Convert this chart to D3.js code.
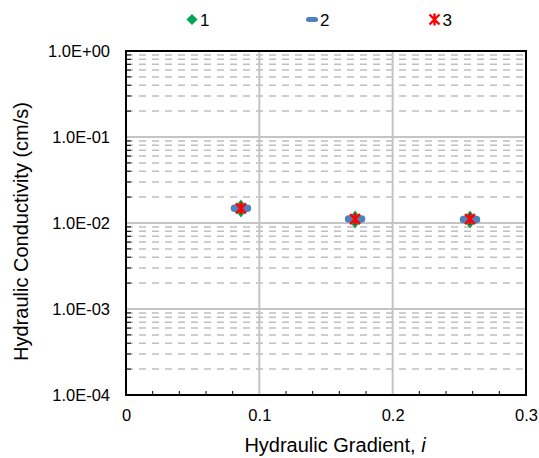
<!DOCTYPE html>
<html>
<head>
<meta charset="utf-8">
<script src="https://cdn.jsdelivr.net/npm/d3@7"></script>
<style>
  body { margin: 0; background: #fff; }
  text { font-family: "Liberation Sans", Arial, sans-serif; }
</style>
</head>
<body>
<script>
// data
var seriesNames = ["1", "2", "3"];
var gradient = [0.0862, 0.1718, 0.258];
var k1 = [0.0147, 0.0110, 0.0110];
var k2 = [0.0148, 0.0111, 0.0110];
var k3 = [0.0148, 0.0111, 0.0111];
var xTicks = [0, 0.1, 0.2, 0.3];
var yTicks = [1e-4, 1e-3, 1e-2, 1e-1, 1];

var MARGINS = {left: 126, right: 13, top: 51, bottom: 63};
var W = 539, H = 458;
var width = W - MARGINS.left - MARGINS.right;
var height = H - MARGINS.top - MARGINS.bottom;

var xScale = d3.scaleLinear().domain([0, 0.3]).range([0, width]);
var yScale = d3.scaleLog().domain([1e-4, 1]).range([height, 0]);

var svg = d3.select("body").append("svg")
    .attr("width", W).attr("height", H);

var g = svg.append("g")
    .attr("transform", "translate(" + MARGINS.left + "," + MARGINS.top + ")");

// minor y values
var minorY = [];
for (var e = -4; e < 0; e++) {
    for (var m = 2; m <= 9; m++) minorY.push(m * Math.pow(10, e));
}
var minorX = d3.range(0.02, 0.3, 0.02).filter(function (v) {
    return Math.abs(v * 10 - Math.round(v * 10)) > 1e-6;
});

// minor grid (dashed)
g.selectAll(".minor-grid").data(minorY).enter().append("line")
    .attr("x1", 0).attr("x2", width)
    .attr("y1", function (d) { return yScale(d); })
    .attr("y2", function (d) { return yScale(d); })
    .attr("stroke", "#bfbfbf").attr("stroke-width", 1.5)
    .attr("stroke-dasharray", "7,6");

// major grid
g.selectAll(".hgrid").data(yTicks.slice(1, -1)).enter().append("line")
    .attr("x1", 0).attr("x2", width)
    .attr("y1", function (d) { return yScale(d); })
    .attr("y2", function (d) { return yScale(d); })
    .attr("stroke", "#c4c4c4").attr("stroke-width", 2);
g.selectAll(".vgrid").data(xTicks.slice(1, -1)).enter().append("line")
    .attr("y1", 0).attr("y2", height)
    .attr("x1", function (d) { return xScale(d); })
    .attr("x2", function (d) { return xScale(d); })
    .attr("stroke", "#c4c4c4").attr("stroke-width", 2);

// axes
var xAxis = g.append("g")
    .attr("transform", "translate(0," + height + ")")
    .call(d3.axisBottom(xScale).tickValues(xTicks).tickSize(0).tickPadding(14)
        .tickFormat(function (d) { return d === 0 ? "0" : d3.format(".1f")(d); }));
xAxis.select(".domain").remove();
xAxis.selectAll("text").attr("font-size", 16.5).attr("fill", "#000");

g.selectAll(".xminor").data(minorX).enter().append("line")
    .attr("x1", function (d) { return xScale(d); })
    .attr("x2", function (d) { return xScale(d); })
    .attr("y1", height).attr("y2", height - 4)
    .attr("stroke", "#000").attr("stroke-width", 1);

var yAxis = g.append("g")
    .call(d3.axisLeft(yScale).tickValues(yTicks).tickSize(0).tickPadding(16)
        .tickFormat(function (d) {
            var ex = Math.round(Math.log10(d));
            return "1.0E" + (ex < 0 ? "-" : "+") + d3.format("02d")(Math.abs(ex));
        }));
yAxis.select(".domain").remove();
yAxis.selectAll("text").attr("font-size", 16.5).attr("fill", "#000");

g.selectAll(".yminor").data(minorY).enter().append("line")
    .attr("y1", function (d) { return yScale(d); })
    .attr("y2", function (d) { return yScale(d); })
    .attr("x1", 0).attr("x2", 5)
    .attr("stroke", "#000").attr("stroke-width", 1);

// frame
g.append("rect").attr("x", 0).attr("y", 0)
    .attr("width", width).attr("height", height)
    .attr("fill", "none").attr("stroke", "#000").attr("stroke-width", 2);

// markers
function drawDiamond(sel, x, y, big) {
    var w = big ? 7 : 5.5, h = big ? 9 : 5.5;
    sel.append("path")
        .attr("d", "M" + x + "," + (y - h) + "L" + (x + w) + "," + y +
            "L" + x + "," + (y + h) + "L" + (x - w) + "," + y + "Z")
        .attr("fill", "#00a651");
}
function drawDash(sel, x, y, big) {
    var hw = big ? 6.5 : 3.5, t = big ? 7.5 : 5;
    sel.append("line").attr("x1", x - hw).attr("x2", x + hw)
        .attr("y1", y).attr("y2", y)
        .attr("stroke", "#4f81bd").attr("stroke-width", t)
        .attr("stroke-linecap", "round");
}
function drawStar(sel, x, y) {
    var s = 5;
    var p = "M" + (x - s) + "," + (y - s) + "L" + (x + s) + "," + (y + s) +
        "M" + (x - s) + "," + (y + s) + "L" + (x + s) + "," + (y - s) +
        "M" + x + "," + (y - s - 1) + "L" + x + "," + (y + s + 1);
    sel.append("path").attr("d", p).attr("stroke", "#ff0000")
        .attr("stroke-width", 2.4).attr("fill", "none");
}

var pts = g.append("g");
gradient.forEach(function (x, i) {
    drawDiamond(pts, xScale(x), yScale(k1[i]), true);
});
gradient.forEach(function (x, i) {
    drawDash(pts, xScale(x), yScale(k2[i]), true);
});
gradient.forEach(function (x, i) {
    drawStar(pts, xScale(x), yScale(k3[i]));
});

// legend
var legendX = [192, 312, 434.5];
var drawers = [drawDiamond, drawDash, drawStar];
var leg = svg.append("g");
seriesNames.forEach(function (name, i) {
    drawers[i](leg, legendX[i], 19.5, false);
    leg.append("text").attr("x", legendX[i] + 8).attr("y", 26)
        .attr("font-size", 17).text(name);
});

// axis titles
svg.append("text")
    .attr("x", 335).attr("y", 452)
    .attr("text-anchor", "middle").attr("font-size", 20)
    .html('Hydraulic Gradient, <tspan font-style="italic">i</tspan>');

svg.append("text")
    .attr("transform", "translate(28,231.5) rotate(-90)")
    .attr("text-anchor", "middle").attr("font-size", 20)
    .text("Hydraulic Conductivity (cm/s)");
</script>
</body>
</html>
